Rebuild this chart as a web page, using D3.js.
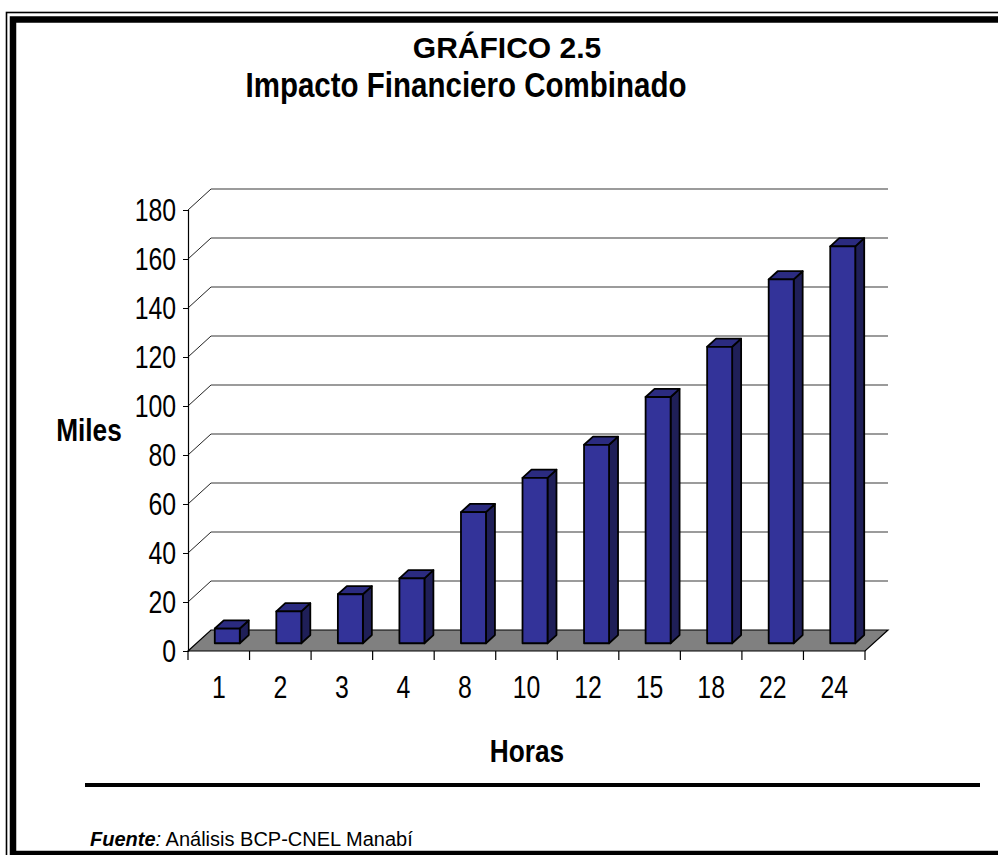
<!DOCTYPE html>
<html><head><meta charset="utf-8">
<script src="https://cdn.jsdelivr.net/npm/d3@7"></script>
<style>
html,body{margin:0;padding:0;background:#fff;}
svg{display:block;}
text{font-family:"Liberation Sans",Arial,sans-serif;}
</style>
</head><body>
<script>
const categories = ["1","2","3","4","8","10","12","15","18","22","24"];
const values = [6, 13, 20, 26.5, 53.5, 67.5, 81, 100.5, 121, 148.5, 162];
const yTicks = [0,20,40,60,80,100,120,140,160,180];
const titleTop = "GRÁFICO 2.5";
const titleMain = "Impacto Financiero Combinado";
const yTitle = "Miles";
const xTitle = "Horas";
const sourceLabel = "Fuente";
const sourceText = " Análisis BCP-CNEL Manabí";

const W = 998, H = 855;
const NX = 0.8; // horizontal compression to mimic a narrow face
const svg = d3.select("body").append("svg").attr("width", W).attr("height", H);

// border
svg.append("rect").attr("x",6.5).attr("y",12.5).attr("width",1100).attr("height",900)
  .attr("fill","none").attr("stroke","#000").attr("stroke-width",1.6);
svg.append("rect").attr("x",13).attr("y",19.5).attr("width",1100).attr("height",834.5)
  .attr("fill","none").attr("stroke","#000").attr("stroke-width",6.5);

// titles
svg.append("text").attr("x",507).attr("y",58)
  .attr("text-anchor","middle").attr("font-weight","bold").attr("font-size",30)
  .text(titleTop);
svg.append("text").attr("transform",`translate(466,97) scale(0.82,1)`)
  .attr("text-anchor","middle").attr("font-weight","bold").attr("font-size",36)
  .text(titleMain);

// scales
const x0 = 188, x1 = 865, yBase = 651;
const depth = {dx:23, dy:-21};
const x = d3.scaleBand().domain(categories).range([x0, x1]).padding(0);
const y = d3.scaleLinear().domain([0,180]).range([yBase, yBase - 9*49]);

// floor
const g = svg.append("g");
g.append("path")
  .attr("d", `M${x0},${yBase}L${x0+depth.dx},${yBase+depth.dy}L${x1+depth.dx},${yBase+depth.dy}L${x1},${yBase}Z`)
  .attr("fill","#808080").attr("stroke","#000").attr("stroke-width",1.2);

// gridlines on back wall and diagonals
yTicks.filter(t=>t>0).forEach(t=>{
  const yy = y(t);
  g.append("line").attr("x1",x0+depth.dx).attr("x2",x1+depth.dx)
    .attr("y1",yy+depth.dy).attr("y2",yy+depth.dy)
    .attr("stroke","#7a7a7a").attr("stroke-width",1.3);
  g.append("line").attr("x1",x0).attr("y1",yy).attr("x2",x0+depth.dx).attr("y2",yy+depth.dy)
    .attr("stroke","#222").attr("stroke-width",1);
});

// y axis
const yAxis = d3.axisLeft(y).tickValues(yTicks).tickSize(5).tickPadding(7).tickFormat(d3.format("d"));
const ya = svg.append("g").attr("transform",`translate(${x0},0)`).call(yAxis);
ya.select(".domain").attr("stroke","#000").attr("stroke-width",1.2);
ya.selectAll(".tick line").attr("stroke","#000");
ya.selectAll(".tick text").attr("font-size",31).attr("fill","#000")
  .attr("font-family","Liberation Sans, Arial, sans-serif")
  .attr("x",-12/NX).attr("dy","0.35em").attr("transform",`scale(${NX},1)`);

// x axis
const xAxis = d3.axisBottom(x).tickSize(0).tickPadding(25);
const xa = svg.append("g").attr("transform",`translate(0,${yBase})`).call(xAxis);
xa.select(".domain").remove();
xa.selectAll(".tick text").attr("font-size",31).attr("fill","#000")
  .attr("font-family","Liberation Sans, Arial, sans-serif")
  .attr("dy","0.71em").attr("transform",`scale(${NX},1)`);
// x ticks at band edges
const edges = categories.map(c=>x(c)).concat([x1]);
svg.append("g").selectAll("line").data(edges).join("line")
  .attr("x1",d=>d).attr("x2",d=>d).attr("y1",yBase).attr("y2",yBase+9)
  .attr("stroke","#000").attr("stroke-width",1.2);

// bars
const bw = 25;
const fo = 0.37, bo = 0.76; // front/back offsets as fraction of depth
const bars = svg.append("g");
categories.forEach((c,i)=>{
  const cx = x(c) + x.bandwidth()/2;
  const lx = cx - bw/2 + depth.dx*fo;
  const rx = lx + bw;
  const by = yBase + depth.dy*fo;
  const ty = y(values[i]) + depth.dy*fo;
  const ddx = depth.dx*(bo-fo), ddy = depth.dy*(bo-fo);
  const bg = bars.append("g").attr("stroke","#000").attr("stroke-width",1.8).attr("stroke-linejoin","round");
  bg.append("path").attr("d",`M${rx},${by}L${rx+ddx},${by+ddy}L${rx+ddx},${ty+ddy}L${rx},${ty}Z`).attr("fill","#1f1f58");
  bg.append("path").attr("d",`M${lx},${ty}L${lx+ddx},${ty+ddy}L${rx+ddx},${ty+ddy}L${rx},${ty}Z`).attr("fill","#2b2b80");
  bg.append("rect").attr("x",lx).attr("y",ty).attr("width",bw).attr("height",by-ty).attr("fill","#333399");
});

// axis titles
svg.append("text").attr("transform","translate(89,441) scale(0.82,1)").attr("text-anchor","middle")
  .attr("font-weight","bold").attr("font-size",32).text(yTitle);
svg.append("text").attr("transform","translate(527,762) scale(0.82,1)").attr("text-anchor","middle")
  .attr("font-weight","bold").attr("font-size",32).text(xTitle);

// separator
svg.append("line").attr("x1",85).attr("x2",980).attr("y1",785).attr("y2",785)
  .attr("stroke","#000").attr("stroke-width",4);

// source
const src = svg.append("text").attr("x",90).attr("y",846).attr("font-size",20);
src.append("tspan").attr("font-weight","bold").attr("font-style","italic").text(sourceLabel);
src.append("tspan").attr("font-style","italic").text(":");
src.append("tspan").text(sourceText);
</script>
</body></html>
